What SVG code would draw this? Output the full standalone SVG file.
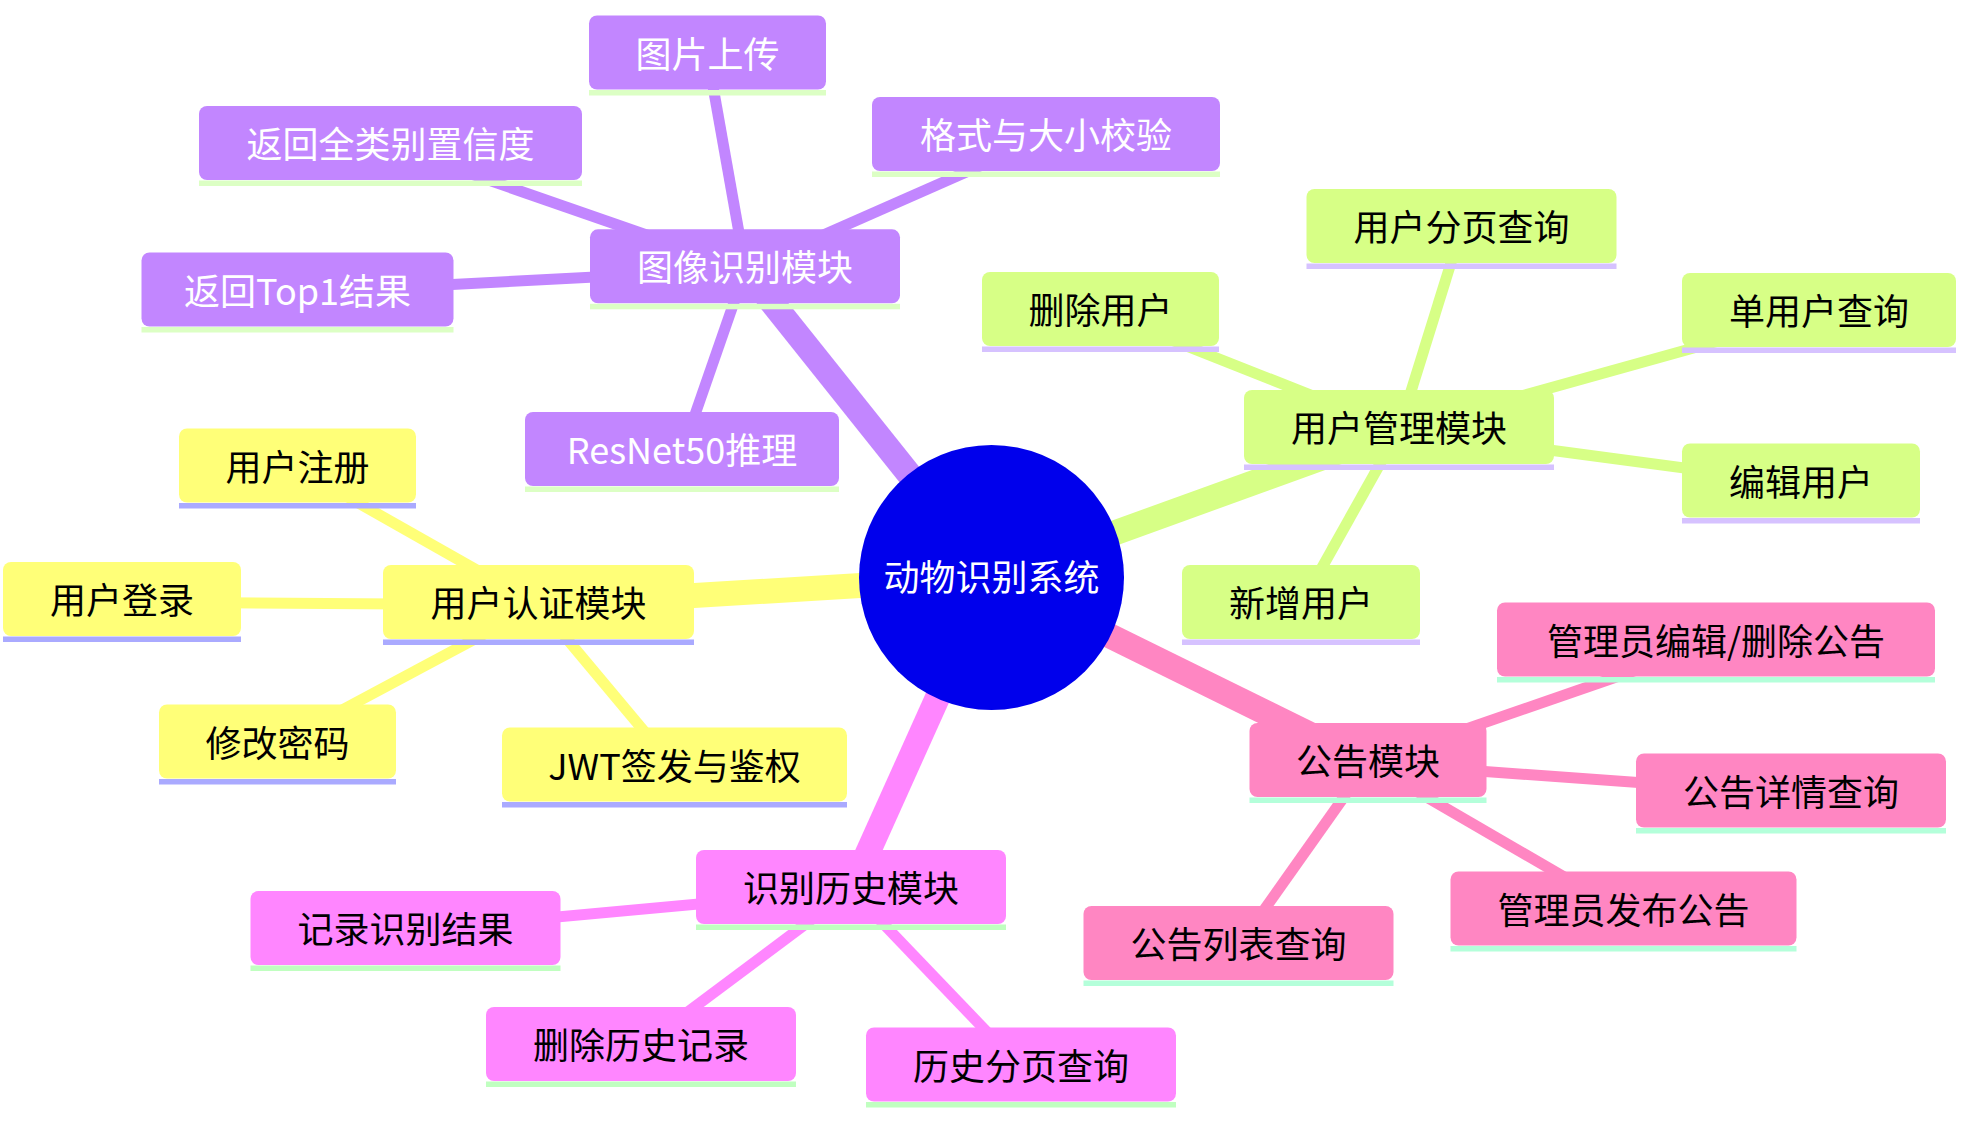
<svg xmlns="http://www.w3.org/2000/svg" width="1964" height="1144" viewBox="0 0 1964 1144">
<style>
text{font-family:"Noto Sans CJK SC","Noto Sans",sans-serif;font-size:36px;text-anchor:middle;dominant-baseline:central}
.e{fill:none}
.d1{stroke-width:25}
.d2{stroke-width:11}
.ep{stroke:#c286ff}.eg{stroke:#d7ff86}.ey{stroke:#ffff78}.em{stroke:#ff86ff}.ek{stroke:#ff86c2}
.np rect.b{fill:#c286ff}.np rect.u{fill:#dcffc4}.np text{fill:#ffffff}
.ng rect.b{fill:#d7ff86}.ng rect.u{fill:#d6c2ff}.ng text{fill:#000000}
.ny rect.b{fill:#ffff78}.ny rect.u{fill:#aaaaff}.ny text{fill:#000000}
.nm rect.b{fill:#ff86ff}.nm rect.u{fill:#c0ffc0}.nm text{fill:#000000}
.nk rect.b{fill:#ff86c2}.nk rect.u{fill:#b4ffda}.nk text{fill:#000000}
</style>
<rect width="1964" height="1144" fill="#ffffff"/>
<g id="connectors">
<path class="e d1 ep" d="M991.5 577.5 L745.5 269.3"/>
<path class="e d1 eg" d="M991.5 577.5 L1399 430"/>
<path class="e d1 ey" d="M991.5 577.5 L538.5 605"/>
<path class="e d1 em" d="M991.5 577.5 L851 890"/>
<path class="e d1 ek" d="M991.5 577.5 L1368 763"/>
<path class="e d2 ep" d="M745.5 269.3 L707.5 55.5"/>
<path class="e d2 ep" d="M745.5 269.3 L390.5 146"/>
<path class="e d2 ep" d="M745.5 269.3 L1046 137"/>
<path class="e d2 ep" d="M745.5 269.3 L297.5 292.5"/>
<path class="e d2 ep" d="M745.5 269.3 L682 452"/>
<path class="e d2 eg" d="M1399 430 L1461.5 229"/>
<path class="e d2 eg" d="M1399 430 L1100.5 312"/>
<path class="e d2 eg" d="M1399 430 L1819 313"/>
<path class="e d2 eg" d="M1399 430 L1801 483.5"/>
<path class="e d2 eg" d="M1399 430 L1301 605"/>
<path class="e d2 ey" d="M538.5 605 L297.5 468.5"/>
<path class="e d2 ey" d="M538.5 605 L122 602"/>
<path class="e d2 ey" d="M538.5 605 L277.5 744.5"/>
<path class="e d2 ey" d="M538.5 605 L674.5 767.5"/>
<path class="e d2 em" d="M851 890 L405.5 931"/>
<path class="e d2 em" d="M851 890 L641 1047"/>
<path class="e d2 em" d="M851 890 L1021 1067.5"/>
<path class="e d2 ek" d="M1368 763 L1716 642.5"/>
<path class="e d2 ek" d="M1368 763 L1791 793.5"/>
<path class="e d2 ek" d="M1368 763 L1623.5 911.5"/>
<path class="e d2 ek" d="M1368 763 L1238.5 946"/>
</g>
<g id="root">
<circle cx="991.5" cy="577.5" r="132.5" fill="#0000ec"/>
<text x="991.5" y="575" fill="#ffffff">动物识别系统</text>
</g>
<g id="n-image" class="np"><rect class="b" x="590" y="229.3" width="310" height="74" rx="8"/><rect class="u" x="590" y="303.8" width="310" height="5.5"/><text x="745" y="265">图像识别模块</text></g>
<g id="n-upload" class="np"><rect class="b" x="589" y="15.5" width="237" height="74" rx="8"/><rect class="u" x="589" y="90" width="237" height="5.5"/><text x="707.5" y="51.5">图片上传</text></g>
<g id="n-allconf" class="np"><rect class="b" x="199" y="106" width="383" height="74" rx="8"/><rect class="u" x="199" y="180.5" width="383" height="5.5"/><text x="390.5" y="142">返回全类别置信度</text></g>
<g id="n-check" class="np"><rect class="b" x="872" y="97" width="348" height="74" rx="8"/><rect class="u" x="872" y="171.5" width="348" height="5.5"/><text x="1046" y="133">格式与大小校验</text></g>
<g id="n-top1" class="np"><rect class="b" x="141.5" y="252.5" width="312" height="74" rx="8"/><rect class="u" x="141.5" y="327" width="312" height="5.5"/><text x="297.5" y="288.5">返回Top1结果</text></g>
<g id="n-resnet" class="np"><rect class="b" x="525" y="412" width="314" height="74" rx="8"/><rect class="u" x="525" y="486.5" width="314" height="5.5"/><text x="682" y="448">ResNet50推理</text></g>
<g id="n-usermgmt" class="ng"><rect class="b" x="1244" y="390" width="310" height="74" rx="8"/><rect class="u" x="1244" y="464.5" width="310" height="5.5"/><text x="1399" y="426">用户管理模块</text></g>
<g id="n-userpage" class="ng"><rect class="b" x="1306.5" y="189" width="310" height="74" rx="8"/><rect class="u" x="1306.5" y="263.5" width="310" height="5.5"/><text x="1461.5" y="225">用户分页查询</text></g>
<g id="n-deluser" class="ng"><rect class="b" x="982" y="272" width="237" height="74" rx="8"/><rect class="u" x="982" y="346.5" width="237" height="5.5"/><text x="1100.5" y="308">删除用户</text></g>
<g id="n-oneuser" class="ng"><rect class="b" x="1682" y="273" width="274" height="74" rx="8"/><rect class="u" x="1682" y="347.5" width="274" height="5.5"/><text x="1819" y="309">单用户查询</text></g>
<g id="n-edituser" class="ng"><rect class="b" x="1682" y="443.5" width="238" height="74" rx="8"/><rect class="u" x="1682" y="518" width="238" height="5.5"/><text x="1801" y="479.5">编辑用户</text></g>
<g id="n-adduser" class="ng"><rect class="b" x="1182" y="565" width="238" height="74" rx="8"/><rect class="u" x="1182" y="639.5" width="238" height="5.5"/><text x="1301" y="601">新增用户</text></g>
<g id="n-auth" class="ny"><rect class="b" x="383" y="565" width="311" height="74" rx="8"/><rect class="u" x="383" y="639.5" width="311" height="5.5"/><text x="538.5" y="601">用户认证模块</text></g>
<g id="n-register" class="ny"><rect class="b" x="179" y="428.5" width="237" height="74" rx="8"/><rect class="u" x="179" y="503" width="237" height="5.5"/><text x="297.5" y="464.5">用户注册</text></g>
<g id="n-login" class="ny"><rect class="b" x="3" y="562" width="238" height="74" rx="8"/><rect class="u" x="3" y="636.5" width="238" height="5.5"/><text x="122" y="598">用户登录</text></g>
<g id="n-passwd" class="ny"><rect class="b" x="159" y="704.5" width="237" height="74" rx="8"/><rect class="u" x="159" y="779" width="237" height="5.5"/><text x="277.5" y="740.5">修改密码</text></g>
<g id="n-jwt" class="ny"><rect class="b" x="502" y="727.5" width="345" height="74" rx="8"/><rect class="u" x="502" y="802" width="345" height="5.5"/><text x="674.5" y="763.5">JWT签发与鉴权</text></g>
<g id="n-history" class="nm"><rect class="b" x="696" y="850" width="310" height="74" rx="8"/><rect class="u" x="696" y="924.5" width="310" height="5.5"/><text x="851" y="886">识别历史模块</text></g>
<g id="n-record" class="nm"><rect class="b" x="250.5" y="891" width="310" height="74" rx="8"/><rect class="u" x="250.5" y="965.5" width="310" height="5.5"/><text x="405.5" y="927">记录识别结果</text></g>
<g id="n-delhist" class="nm"><rect class="b" x="486" y="1007" width="310" height="74" rx="8"/><rect class="u" x="486" y="1081.5" width="310" height="5.5"/><text x="641" y="1043">删除历史记录</text></g>
<g id="n-histpage" class="nm"><rect class="b" x="866" y="1027.5" width="310" height="74" rx="8"/><rect class="u" x="866" y="1102" width="310" height="5.5"/><text x="1021" y="1063.5">历史分页查询</text></g>
<g id="n-notice" class="nk"><rect class="b" x="1249.5" y="723" width="237" height="74" rx="8"/><rect class="u" x="1249.5" y="797.5" width="237" height="5.5"/><text x="1368" y="759">公告模块</text></g>
<g id="n-editnotice" class="nk"><rect class="b" x="1497" y="602.5" width="438" height="74" rx="8"/><rect class="u" x="1497" y="677" width="438" height="5.5"/><text x="1716" y="638.5">管理员编辑/删除公告</text></g>
<g id="n-noticedetail" class="nk"><rect class="b" x="1636" y="753.5" width="310" height="74" rx="8"/><rect class="u" x="1636" y="828" width="310" height="5.5"/><text x="1791" y="789.5">公告详情查询</text></g>
<g id="n-publish" class="nk"><rect class="b" x="1450.5" y="871.5" width="346" height="74" rx="8"/><rect class="u" x="1450.5" y="946" width="346" height="5.5"/><text x="1623.5" y="907.5">管理员发布公告</text></g>
<g id="n-noticelist" class="nk"><rect class="b" x="1083.5" y="906" width="310" height="74" rx="8"/><rect class="u" x="1083.5" y="980.5" width="310" height="5.5"/><text x="1238.5" y="942">公告列表查询</text></g>
</svg>
